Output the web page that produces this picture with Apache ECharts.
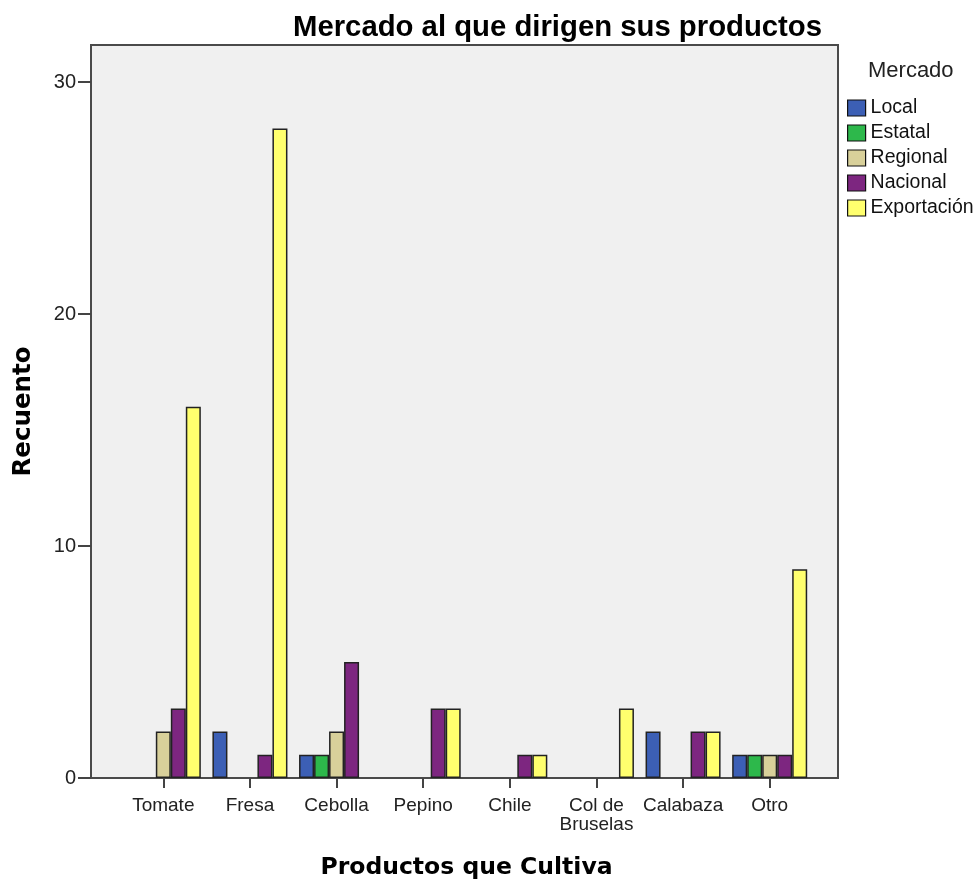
<!DOCTYPE html>
<html>
<head>
<meta charset="utf-8">
<script src="https://cdn.jsdelivr.net/npm/echarts@6/dist/echarts.min.js"></script>
<style>
html,body{margin:0;padding:0;background:#fff;}
#c{width:980px;height:880px;}
</style>
</head>
<body>
<div id="c"></div>
<script>
const categories = ['Tomate', 'Fresa', 'Cebolla', 'Pepino', 'Chile', 'Col de\nBruselas', 'Calabaza', 'Otro'];
const local       = [0, 2, 1, 0, 0, 0, 2, 1];
const estatal     = [0, 0, 1, 0, 0, 0, 0, 1];
const regional    = [2, 0, 2, 0, 0, 0, 0, 1];
const nacional    = [3, 1, 5, 3, 1, 0, 2, 1];
const exportacion = [16, 28, 0, 3, 1, 3, 2, 9];
const yTicks = [0, 10, 20, 30];
const seriesNames = ['Local', 'Estatal', 'Regional', 'Nacional', 'Exportación'];
const seriesData = [local, estatal, regional, nacional, exportacion];
const colors = ['#3c5fb5', '#2db84b', '#d8d09a', '#7d2680', '#ffff6e'];

const FONT = 'Liberation Sans, Arial, sans-serif';
const chart = echarts.init(document.getElementById('c'), null, {renderer: 'canvas'});
chart.setOption({
  animation: false,
  title: {
    text: 'Mercado al que dirigen sus productos',
    left: 293, top: 13, padding: 0,
    textStyle: {fontFamily: FONT, fontSize: 29.3, fontWeight: 'bold', color: '#000'}
  },
  graphic: [
    {type: 'rect', z: -10, shape: {x: 91, y: 45, width: 747, height: 733},
     style: {fill: '#f0f0f0', stroke: '#4a4a4a', lineWidth: 2}},
    {type: 'text', left: 868, top: 60,
     style: {text: 'Mercado', fontFamily: FONT, fontSize: 22, fill: '#222'}}
  ],
  legend: {
    orient: 'vertical', left: 847, top: 98, padding: 0,
    itemWidth: 18, itemHeight: 16, itemGap: 5,
    icon: 'rect',
    textStyle: {fontFamily: FONT, fontSize: 19.5, color: '#111', padding: [0, 0, 0, 0]},
    itemStyle: {borderColor: '#111', borderWidth: 1.2},
    data: seriesNames
  },
  grid: {left: 120, right: 167, top: 45, bottom: 102, outerBoundsMode: 'none', containLabel: false},
  xAxis: {
    type: 'category', data: categories,
    axisLine: {show: false},
    axisTick: {show: true, alignWithLabel: true, length: 10, lineStyle: {color: '#444', width: 2}},
    axisLabel: {interval: 0, fontFamily: FONT, fontSize: 19, color: '#222', margin: 18, lineHeight: 19},
    name: 'Productos que Cultiva', nameLocation: 'middle', nameGap: 78,
    nameTextStyle: {fontFamily: 'DejaVu Sans, sans-serif', fontSize: 23.5, fontWeight: 'bold', color: '#000'}
  },
  yAxis: {
    type: 'value', min: 0, max: 31.6, interval: 10, offset: 29,
    axisLine: {show: false},
    splitLine: {show: false},
    axisTick: {show: true, length: 13, lineStyle: {color: '#444', width: 2}, customValues: yTicks},
    axisLabel: {fontFamily: FONT, fontSize: 20, color: '#222', margin: 15, customValues: yTicks},
    name: 'Recuento', nameLocation: 'middle', nameGap: 55, nameRotate: 90,
    nameTextStyle: {fontFamily: 'DejaVu Sans, sans-serif', fontSize: 24.5, fontWeight: 'bold', color: '#000'}
  },
  series: seriesNames.map((n, i) => ({
    name: n, type: 'bar',
    data: seriesData[i].map(v => v === 0 ? null : v),
    barGap: '0%', barCategoryGap: '13.4%',
    itemStyle: {color: colors[i], borderColor: '#222', borderWidth: 1.5}
  }))
});
</script>
</body>
</html>
